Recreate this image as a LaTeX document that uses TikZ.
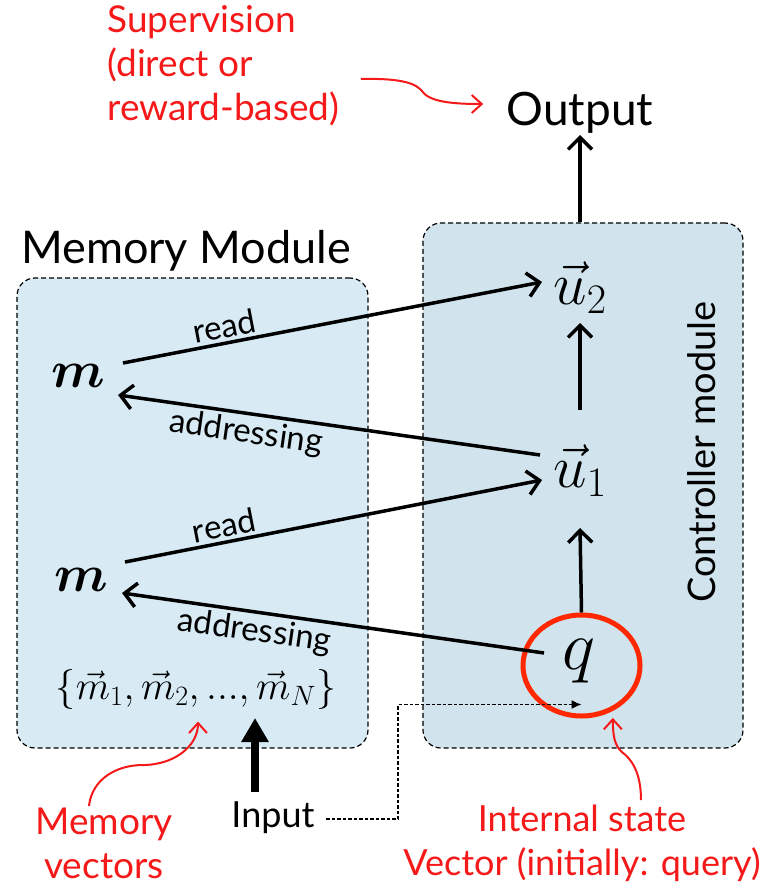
\documentclass[tikz,border=0pt]{standalone}
\usepackage{fix-cm}
\usepackage{amsmath, amssymb}
\usepackage{fontspec}
\setmainfont{Lato}
\definecolor{memblue}{RGB}{216, 235, 245}
\definecolor{ctrlblue}{RGB}{209, 228, 237}
\definecolor{supred}{RGB}{245, 25, 25}
\definecolor{ringred}{RGB}{255, 40, 0}
\usetikzlibrary{arrows.meta, positioning, calc, shapes.geometric}

\begin{document}
\begin{tikzpicture}[x=1pt, y=-1pt,
  modulebox/.style={draw, line width=1.2pt, dash pattern=on 5pt off 3pt, rounded corners=18pt},
  flow/.style={line width=3.5pt, -{Straight Barb[length=12pt,width=24pt]}},
  flowback/.style={line width=3.5pt, {Straight Barb[length=12pt,width=24pt]}-},
  hint/.style={draw=supred, line width=2pt, -{Straight Barb[length=10pt,width=18pt]}},
  lbl/.style={font=\fontsize{33}{38}\selectfont, inner sep=3pt},
  note/.style={text=supred, font=\fontsize{37}{44}\selectfont, align=center}
]
  \path[use as bounding box, fill=white] (0,0) rectangle (763,885);

  % The two modules
  \node[modulebox, fill=memblue, minimum width=351pt, minimum height=470pt] (mem) at (192.5,513) {};
  \node[modulebox, fill=ctrlblue, minimum width=320pt, minimum height=525pt] (ctrl) at (583,485.5) {};
  \node[font=\fontsize{45}{50}\selectfont] (memtitle) at (186,251) {Memory Module};
  \node[font=\fontsize{38}{42}\selectfont, rotate=90] (ctrltitle) at (702,452) {Controller module};

  % Controller states
  \node[font=\fontsize{46}{50}\selectfont] (output) at (580,113) {Output};
  \node[font=\fontsize{60}{62}\selectfont] (u2) at (580,288) {$\vec{u}_2$};
  \node[font=\fontsize{60}{62}\selectfont] (u1) at (580,471) {$\vec{u}_1$};
  \node[font=\fontsize{70}{72}\selectfont] (q) at (579,661) {$q$};
  \node[draw=ringred, line width=5pt, ellipse, minimum width=117pt, minimum height=101pt] (ring) at (581.5,665.5) {};

  % Memory slots
  \node[font=\fontsize{52}{54}\selectfont] (mtop) at (78,376) {$\boldsymbol{m}$};
  \node[font=\fontsize{52}{54}\selectfont] (mbot) at (81,580) {$\boldsymbol{m}$};
  \node[font=\fontsize{40}{44}\selectfont] (mset) at (196,689) {$\{\vec{m}_1, \vec{m}_2, ..., \vec{m}_N\}$};

  % Input
  \node[font=\fontsize{36}{40}\selectfont] (input) at (273,818) {Input};
  \coordinate (memin) at (255,718);

  % Red notes
  \node[note, anchor=west, align=left] (sup) at (104,66) {Supervision\\(direct or\\reward-based)};
  \node[note] (memvec) at (104,843) {Memory\\vectors};
  \node[note, font=\fontsize{36}{44}\selectfont] (intl) at (582,843) {Internal state\\Vector (initially: query)};

  % Read / addressing
  \draw[flow] ($(mtop)+(45,-13)$) -- node[lbl, above, sloped, pos=0.25] {read} ($(u2)+(-38,-6)$);
  \draw[flowback] ($(mtop)+(40,19)$) -- node[lbl, below, sloped, pos=0.31] {addressing} ($(u1)+(-40,-16)$);
  \draw[flow] ($(mbot)+(44,-18)$) -- node[lbl, above, sloped, pos=0.245] {read} ($(u1)+(-38,9)$);
  \draw[flowback] ($(mbot)+(41,13)$) -- node[lbl, below, sloped, pos=0.32] {addressing} ($(q)+(-35,-8)$);

  % Controller flow
  \draw[flow] (ring.north) -- ($(u1)+(0,57)$);
  \draw[flow] ($(u1)+(0,-61)$) -- ($(u2)+(0,35)$);
  \draw[flow] (output |- ctrl.north) -- ($(output)+(0,22)$);

  % Input paths
  \draw[line width=8pt, -{Triangle[length=24pt,width=26pt]}] ($(input.north)+(-18,-6)$) -- (memin);
  \draw[line width=1.3pt, dash pattern=on 3.5pt off 2pt, -{Latex[length=10pt,width=9pt]}] ($(input.east)+(8,1)$) -- ++(72,0) |- ($(ring.south)+(0,-14)$);

  % Red pointers
  \draw[hint] ($(sup.east)+(18,13)$) .. controls +(43,-1) and +(-6,-8) .. ++(62,13) .. controls +(8,11) and +(-24,0) .. ($(output.west)+(-20,-9)$);
  \draw[hint] ($(memvec.north)+(-15,2)$) .. controls +(3,-28) and +(-24,0) .. ++(53,-41) .. controls +(33,0) and +(0,24) .. ($(mset.south)+(2,9)$);
  \draw[hint] ($(intl.north)+(59,-1)$) .. controls +(0,-30) and +(8,6) .. ++(-19,-48) .. controls +(-8,-7) and +(0,16) .. ($(ring.-60)+(4,5)$);
\end{tikzpicture}
\end{document}
